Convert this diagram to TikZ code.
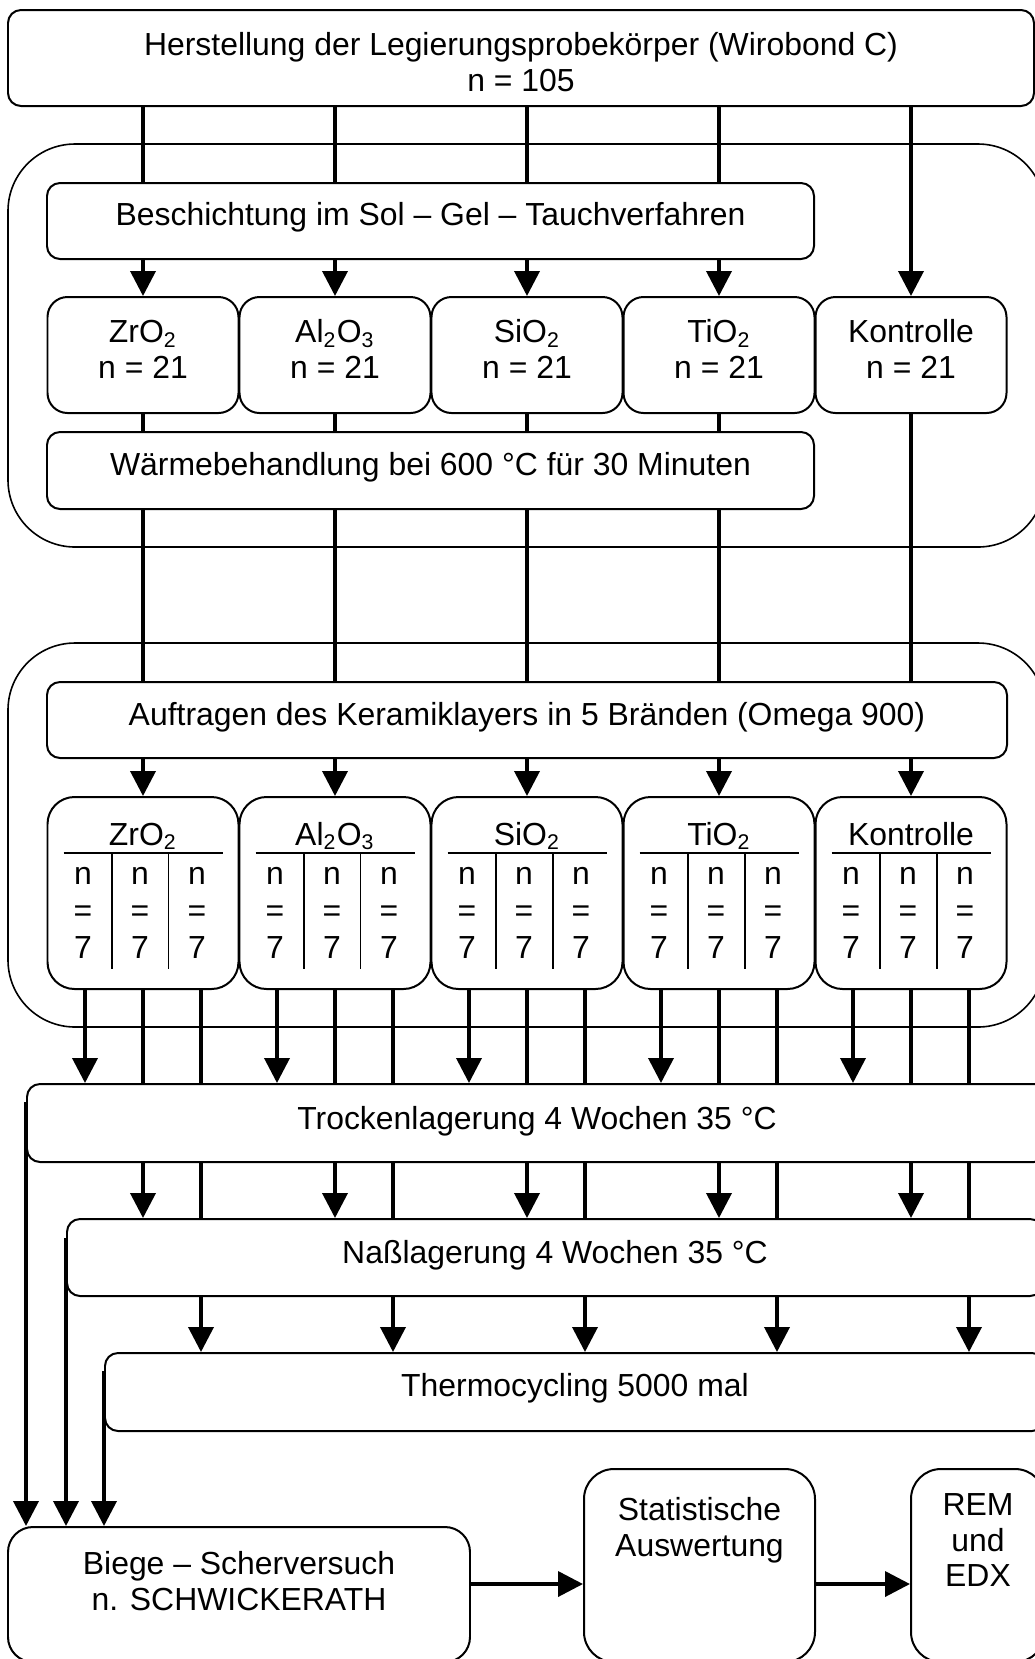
\documentclass[tikz,border=0pt]{standalone}
\usepackage{fontspec}
\setmainfont{Liberation Sans}
\usetikzlibrary{arrows.meta,calc}
\newlength{\pxlen}
\setlength{\pxlen}{0.376pt}
\newcommand{\toptext}[2]{\vbox to #1\pxlen{\hbox{\begin{tabular}{@{}c@{}}#2\end{tabular}}\vss}}

\begin{document}
\begin{tikzpicture}[x=0.376pt,y=-0.376pt,
  every node/.style={font=\fontsize{12}{13.5}\selectfont},
  box/.style={draw,line width=0.75pt,rounded corners=13*\pxlen,align=center,inner sep=0pt},
  ox/.style={box,rounded corners=20*\pxlen,minimum width=191*\pxlen,minimum height=116*\pxlen},
  layer/.style={box,rounded corners=27*\pxlen,minimum width=191*\pxlen,minimum height=192*\pxlen},
  grp/.style={line width=0.6pt,rounded corners=67*\pxlen},
  conn/.style={line width=1.4pt},
  arr/.style={conn,-{Triangle[length=9.4pt,width=9.4pt]}}]
  \useasboundingbox (0,0) rectangle (1035,1659);

  \draw[grp] (8,144) rectangle (1045,547);
  \draw[grp] (8,643) rectangle (1045,1027);

  \node[box,minimum width=1026*\pxlen,minimum height=96*\pxlen] (top) at (521,58)
    {\toptext{55}{Herstellung der Legierungsprobekörper (Wirobond C)\\n = 105}};
  \node[box,minimum width=767*\pxlen,minimum height=76*\pxlen] (besch) at (430.5,221)
    {\toptext{41}{Beschichtung im Sol – Gel – Tauchverfahren}};
  \node[box,minimum width=767*\pxlen,minimum height=77*\pxlen] (warm) at (430.5,470.5)
    {\toptext{40}{Wärmebehandlung bei 600 °C für 30 Minuten}};
  \node[box,minimum width=960*\pxlen,minimum height=76*\pxlen] (auf) at (527,720)
    {\toptext{39}{Auftragen des Keramiklayers in 5 Bränden (Omega 900)}};

  \foreach \g/\cx/\lab in {zr/143/{ZrO\textsubscript{2}},al/335/{Al\textsubscript{2}O\textsubscript{3}},
      si/527/{SiO\textsubscript{2}},ti/719/{TiO\textsubscript{2}},ko/911/Kontrolle} {
    \node[ox] (\g) at (\cx,355) {\toptext{75}{\lab\\n = 21}};
    \node[layer] (k\g) at (\cx,893) {};
    \node[anchor=base] (k\g-t) at (\cx,845) {\lab};
    \draw[line width=1pt] (\cx-79.5,853) -- (\cx+79.5,853);
    \draw[line width=0.75pt] (\cx-31,853) -- (\cx-31,969) (\cx+25.5,853) -- (\cx+25.5,969);
    \foreach \dx [count=\i] in {-60,-3,54}
      \node[align=center,font=\fontsize{12}{14}\selectfont] (k\g-\i) at (\cx+\dx,913) {n\\=\\7};
  }

  \node[box,minimum width=1020*\pxlen,minimum height=78*\pxlen] (trocken) at (537,1123)
    {\toptext{37}{Trockenlagerung 4 Wochen 35 °C}};
  \node[box,minimum width=976*\pxlen,minimum height=77*\pxlen] (nass) at (555,1257.5)
    {\toptext{38}{Naßlagerung 4 Wochen 35 °C}};
  \node[box,minimum width=940*\pxlen,minimum height=78*\pxlen] (thermo) at (575,1392)
    {\toptext{41}{Thermocycling 5000 mal}};

  \node[box,rounded corners=25*\pxlen,minimum width=462*\pxlen,minimum height=135*\pxlen] (biege) at (239,1594.5)
    {\toptext{91}{Biege – Scherversuch\\n. SCHWICKERATH}};
  \node[box,rounded corners=30*\pxlen,minimum width=231*\pxlen,minimum height=193*\pxlen] (stat) at (699.5,1565.5)
    {\toptext{141}{Statistische\\Auswertung}};
  \node[box,rounded corners=30*\pxlen,minimum width=134*\pxlen,minimum height=193*\pxlen] (rem) at (978,1565.5)
    {\toptext{151}{REM\\und\\EDX}};

  \foreach \g in {zr,al,si,ti} {
    \draw[conn] (\g |- top.south) -- (\g |- besch.north);
    \draw[arr] (\g |- besch.south) -- (\g.north);
    \draw[conn] (\g.south) -- (\g |- warm.north);
    \draw[conn] (\g |- warm.south) -- (\g |- auf.north);
  }
  \draw[arr] (ko |- top.south) -- (ko.north);
  \draw[conn] (ko.south) -- (ko |- auf.north);

  \foreach \g in {zr,al,si,ti,ko} {
    \draw[arr] (\g |- auf.south) -- (k\g.north);
    \coordinate (\g1) at ($(k\g.south)+(-58,0)$);
    \coordinate (\g2) at (k\g.south);
    \coordinate (\g3) at ($(k\g.south)+(58,0)$);
    \draw[arr] (\g1) -- (\g1 |- trocken.north);
    \draw[conn] (\g2) -- (\g2 |- trocken.north);
    \draw[arr] (\g2 |- trocken.south) -- (\g2 |- nass.north);
    \draw[conn] (\g3) -- (\g3 |- trocken.north);
    \draw[conn] (\g3 |- trocken.south) -- (\g3 |- nass.north);
    \draw[arr] (\g3 |- nass.south) -- (\g3 |- thermo.north);
  }

  \draw[arr] ([yshift=-19*\pxlen]trocken.north west) -- (trocken.west |- biege.north);
  \draw[arr] ([yshift=-20*\pxlen]nass.north west) -- (nass.west |- biege.north);
  \draw[arr] ([yshift=-19*\pxlen]thermo.north west) -- (thermo.west |- biege.north);

  \coordinate (arow) at (0,1584);
  \draw[arr] (biege.east |- arow) -- (stat.west |- arow);
  \draw[arr] (stat.east |- arow) -- (rem.west |- arow);
\end{tikzpicture}
\end{document}
